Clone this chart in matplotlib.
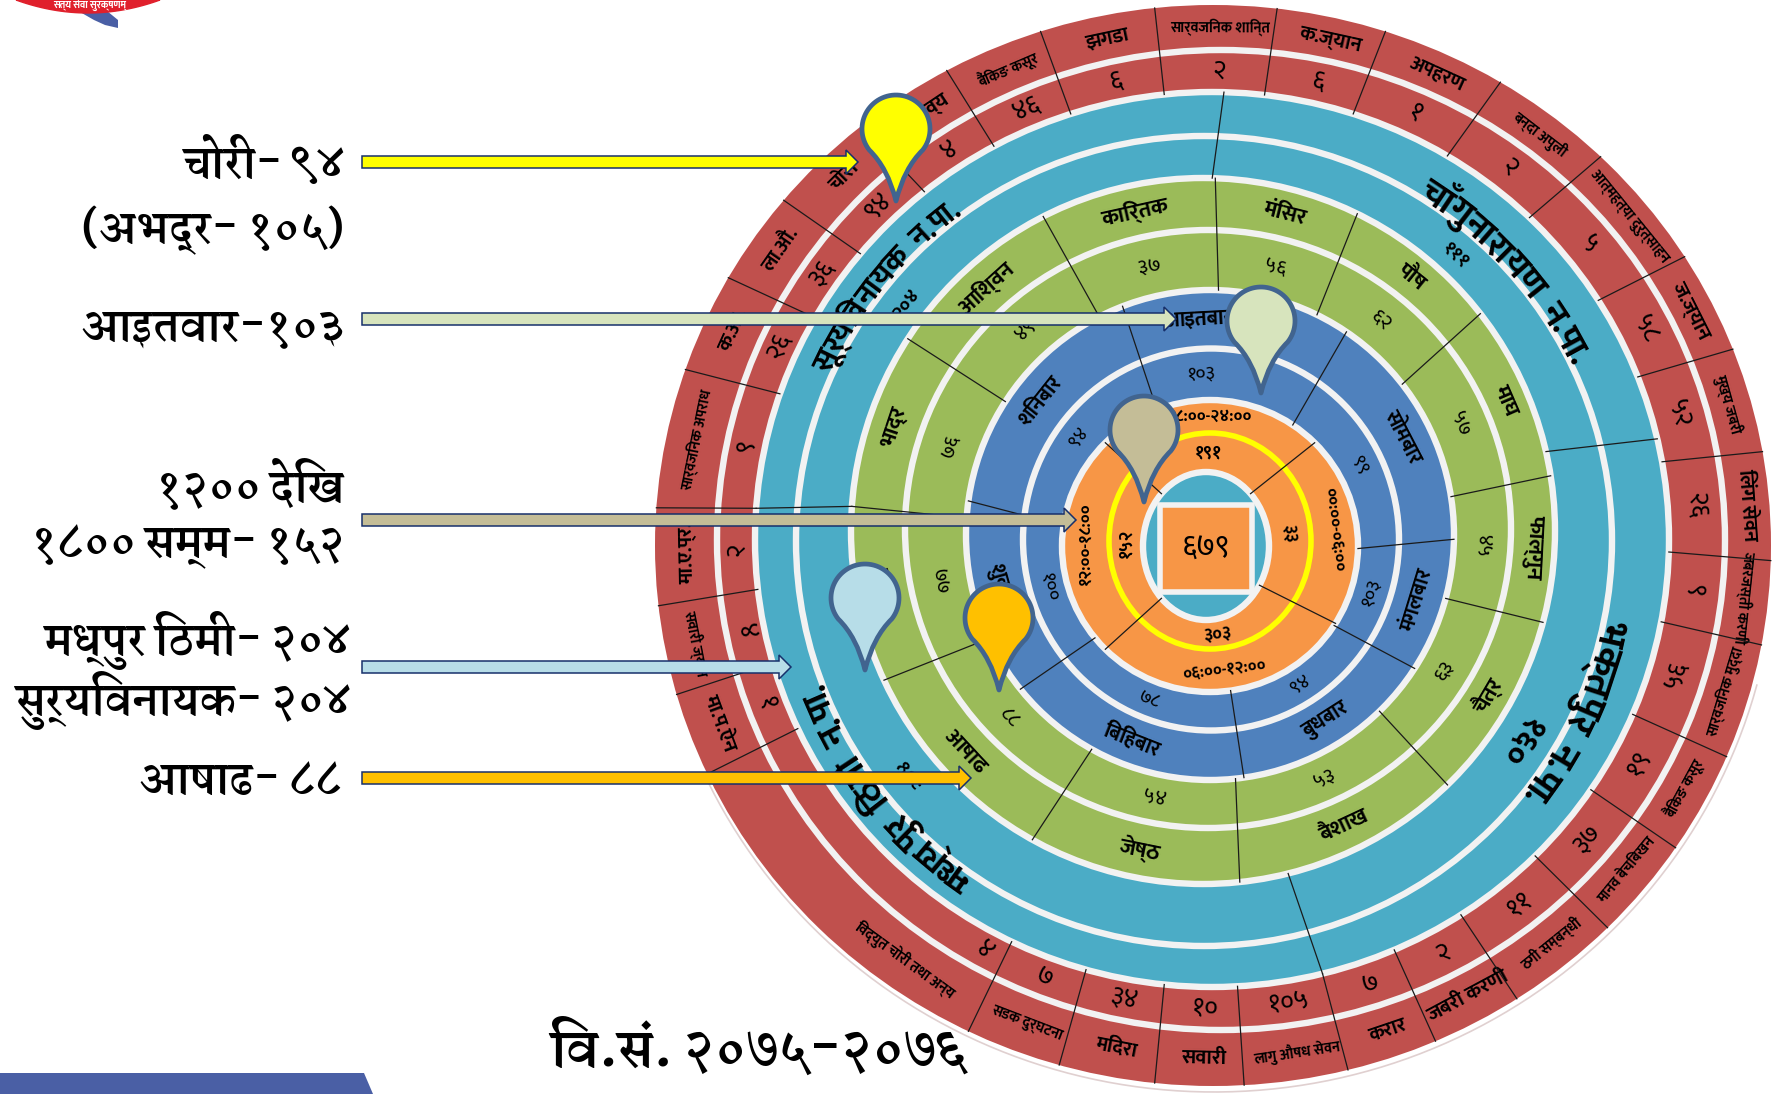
import re
import numpy as np
import matplotlib
matplotlib.use('Agg')
import matplotlib.pyplot as plt
from matplotlib.patches import Ellipse, Polygon, PathPatch, Rectangle
from matplotlib.path import Path

plt.rcParams['font.family'] = ['Noto Sans Devanagari', 'DejaVu Sans']
HEAD_FONT = ['Martel', 'Noto Sans Devanagari', 'DejaVu Sans']
RING_FONT = ['Mukta', 'Noto Sans Devanagari', 'DejaVu Sans']

# outermost ring: offence, count (clockwise from the top)
crime_names = ['सार्वजनिक शान्ति', 'क.ज्यान', 'अपहरण', 'बन्दा अपुली', 'आत्महत्या दुरुत्साहन', 'ज.ज्यान', 'मुख्य जबरी',
               'लिंग सेवन', 'जबरजस्ती करणी', 'सार्वजनिक मुद्दा', 'बैंकिङ कसूर', 'मानव बेचबिखन', 'ठगी सम्बन्धी',
               'जबरी करणी', 'करार', 'लागु औषध सेवन', 'सवारी', 'मदिरा', 'सडक दुर्घटना', 'विद्युत चोरी तथा अन्य',
               'मा.प.ऐन', 'सवारी ज्यान', 'मा.ए.प्र.', 'सार्वजनिक अपराध', 'क.आ.', 'ला.औ.', 'चोरी', 'कर्तव्य',
               'बैंकिङ कसूर', 'झगडा']
crime_vals = ['२', '६', '१', '२', '५', '५८', '५२', '२६', '९', '५६', '१९', '३७', '११', '२', '७', '१०५', '१०', '३४',
              '७', '४', '१', '४', '२', '९', '२६', '३६', '९४', '४', '४६', '६']
crime_edges = [354, 6.6, 18, 31, 44, 57.7, 68.7, 80, 91.6, 100.6, 113, 124, 135, 147, 156.5, 166, 176.8, 186, 196,
               206, 245, 254, 263.6, 274, 289, 299.7, 309.7, 321, 331.5, 342]

# municipality ring
town_names = ['चाँगुनारायण न.पा.', 'भक्तपुर न.पा.', 'मध्यपुर ठिमी न.पा.', 'सूर्यविनायक न.पा.']
town_vals = ['१११', '१६०', '२०४', '२०४']
town_edges = [1.5, 77, 166, 274]
town_name_ang = [48, 115, 232, 309]
town_val_ang = [42, 123, 231, 308]
town_sizes = [26, 28, 26, 22]

# month ring
month_names = ['मंसिर', 'पौष', 'माघ', 'फाल्गुन', 'चैत्र', 'बैशाख', 'जेष्ठ', 'आषाढ', 'साउन', 'भाद्र', 'आश्विन', 'कार्तिक']
month_vals = ['५६', '६२', '५७', '४५', '६३', '५३', '५४', '८८', '७७', '७६', '४९', '३७']
month_edges = [2, 26, 52, 81, 105, 136, 174, 209, 245, 274, 303, 333]

# weekday ring
day_names = ['आइतबार', 'सोमबार', 'मंगलबार', 'बुधबार', 'बिहिबार', 'शुक्रबार', 'शनिबार']
day_vals = ['१०३', '९९', '१०३', '९४', '७८', '१००', '९४']
day_edges = [339, 34, 91, 123, 172, 231, 278]

# time of day ring
slot_names = ['१८:००-२४:००', '००:००-०६:००', '०६:००-१२:००', '१२:००-१८:००']
slot_vals = ['१९१', '३३', '३०३', '१५२']
slot_edges = [315, 45, 122, 225]

total = '६७९'
year_text = 'वि.सं. २०७५-२०७६'

# callouts on the left
callout_lines = ['चोरी- ९४', '(अभद्र- १०५)', 'आइतवार-१०३', '१२०० देखि', '१८०० सम्म- १५२',
                 'मध्पुर ठिमी- २०४', 'सुर्यविनायक- २०४', 'आषाढ- ८८']
line_y = [163, 230, 328, 485, 547, 640, 700, 782]
line_right = [345, 345, 345, 345, 345, 351, 351, 342]
pointer_colors = ['#FFFF00', '#D7E4BD', '#C4BD97', '#B7DDE8', '#FFC000']
arrow_y = [162, 319, 520, 667, 778]
arrow_tip = [858, 1176, 1076, 791, 971]
pin_x = [896, 1261, 1144, 865, 999]
pin_y = [129, 321, 430, 598, 618]

# ring outlines: centre x, half width, centre y, half height
RINGS = [(1213, 558, 545.5, 540.5), (1221, 504, 540, 490), (1212, 457, 539.5, 447.5), (1204, 408, 541, 405),
         (1203, 352, 531, 353), (1208, 303, 529, 299), (1210, 244, 535, 245), (1211, 188, 539.5, 191),
         (1210, 148, 546, 146), (1210, 101, 541, 108), (1206, 63, 546, 74)]
FILLS = ['#C0504D', '#C0504D', '#4BACC6', '#4BACC6', '#9BBB59', '#9BBB59', '#4F81BD', '#4F81BD', '#F79646', '#F79646',
         '#4BACC6']
GAP = '#F2F2F2'


def vis(s):
    # no text shaping here, so the short i sign has to be put in front of its consonants by hand
    return re.sub('((?:[\u0915-\u0939]\u094d)*[\u0915-\u0939])\u093f', '\u093f\\1', s)


def ring_xy(i, ang, k=1.0):
    cx, a, cy, b = RINGS[i]
    t = np.radians(ang)
    return cx + k * a * np.sin(t), cy - k * b * np.cos(t)


def between(i, j, ang, f=0.5):
    x1, y1 = ring_xy(i, ang)
    x2, y2 = ring_xy(j, ang)
    return x1 + (x2 - x1) * f, y1 + (y2 - y1) * f


def mids(edges):
    out = []
    for n, e in enumerate(edges):
        nxt = edges[(n + 1) % len(edges)]
        if nxt < e:
            nxt += 360
        out.append(((e + nxt) / 2) % 360)
    return out


def upright(ang):
    return -ang + 180 if 100 < ang < 260 else -ang


def ring_text(x, y, s, rot, size, weight='bold'):
    ax.text(x, y, vis(s), rotation=rot, rotation_mode='anchor', ha='center', va='center', fontsize=size,
            fontweight=weight, family=RING_FONT, color='black')


def spokes(edges, i, j):
    for e in edges:
        x1, y1 = ring_xy(i, e)
        x2, y2 = ring_xy(j, e)
        ax.plot([x1, x2], [y1, y2], color='#1a1a1a', lw=0.9, zorder=4)


def clusters(s):
    # a cluster keeps its vowel signs and joined consonants together
    out = []
    for ch in s:
        cp = ord(ch)
        mark = 0x0900 <= cp <= 0x0903 or 0x093A <= cp <= 0x094F or 0x0951 <= cp <= 0x0957
        if out and (mark or out[-1].endswith('\u094d')):
            out[-1] += ch
        else:
            out.append(ch)
    return out


def curved(s, i, ang, size, k=1.02):
    # clockwise along ring i, tops pointing outwards
    renderer = fig.canvas.get_renderer()
    radius = k * (RINGS[i][1] + RINGS[i][3]) / 2
    parts = clusters(s)
    widths = []
    for p in parts:
        t = ax.text(0, 0, vis(p) if p != ' ' else 'र', fontsize=size, fontweight='bold', family=RING_FONT)
        widths.append(t.get_window_extent(renderer).width)
        t.remove()
    pos = ang - np.degrees(sum(widths) / radius) / 2
    for p, w in zip(parts, widths):
        c = pos + np.degrees(w / 2 / radius)
        if p != ' ':
            x, y = ring_xy(i, c, k)
            ring_text(x, y, p, -c, size)
        pos += np.degrees(w / radius)


def pin(x, yc, color, r=34, drop=72):
    t = np.radians(np.linspace(-38, 218, 60))
    ax_pts = np.column_stack([x + r * np.cos(t), yc - r * np.sin(t)])
    tip = (x, yc + drop)
    verts = [tip, (x + 0.24 * r, yc + 1.15 * r), ax_pts[0]] + [tuple(p) for p in ax_pts[1:]] + \
            [(x - 0.24 * r, yc + 1.15 * r), tip, tip]
    codes = [Path.MOVETO, Path.CURVE3, Path.CURVE3] + [Path.LINETO] * (len(ax_pts) - 1) + \
            [Path.CURVE3, Path.CURVE3, Path.CLOSEPOLY]
    ax.add_patch(PathPatch(Path(verts, codes), facecolor=color, edgecolor='#41648F', lw=3.4, zorder=8,
                           joinstyle='round'))


def arrow(x0, tip, y, color):
    h, head, xb = 6, 12, tip - 12
    pts = [(x0, y - h), (xb, y - h), (xb, y - head), (tip, y), (xb, y + head), (xb, y + h), (x0, y + h)]
    ax.add_patch(Polygon(pts, closed=True, facecolor=color, edgecolor='#17306B', lw=1.1, zorder=7))


fig = plt.figure(figsize=(17.79, 10.94), dpi=100)
ax = fig.add_axes([0, 0, 1, 1])
ax.set_xlim(0, 1779)
ax.set_ylim(1094, 0)
ax.axis('off')

# faint ghost edge below the disc
ghost = np.radians(np.linspace(105, 245, 200))
ax.plot(1214 + 562 * np.sin(ghost), 543 - 549 * np.cos(ghost), color='#e0d0d0', lw=1.2, zorder=1)

for n, (ring, fill) in enumerate(zip(RINGS, FILLS)):
    cx, a, cy, b = ring
    if n == 9:
        ax.add_patch(Ellipse((cx, cy), 2 * a, 2 * b, facecolor=fill, edgecolor='#FFFF00', lw=4, zorder=2))
    else:
        ax.add_patch(Ellipse((cx, cy), 2 * a, 2 * b, facecolor=fill, edgecolor=GAP if n else 'none', lw=4.6, zorder=2))

# middle square
ax.add_patch(Rectangle((1160, 505), 92, 87, facecolor='#F79646', edgecolor=GAP, lw=4, zorder=3))
ring_text(1206, 548, total, 0, 22, 'normal')

spokes(crime_edges, 0, 2)
spokes(town_edges, 2, 4)
spokes(month_edges, 4, 6)
spokes(day_edges, 6, 8)
spokes(slot_edges, 8, 10)

for name, val, ang in zip(crime_names, crime_vals, mids(crime_edges)):
    lab_ang = 216 if name.startswith('विद्युत') else ang
    x, y = between(0, 1, lab_ang)
    size = 14.5 if len(name) < 10 else 10.5
    ring_text(x, y, name, upright(lab_ang), size)
    x, y = between(1, 2, 209 if name.startswith('विद्युत') else ang)
    ring_text(x, y, val, upright(ang), 19, 'normal')

for name, val, ang1, ang2, sz in zip(town_names, town_vals, town_name_ang, town_val_ang, town_sizes):
    curved(name, 3, ang1, sz)
    x, y = between(3, 4, ang2, 0.55)
    ring_text(x, y, val, -ang2, 24 if val == '१६०' else 14)

for name, val, ang in zip(month_names, month_vals, mids(month_edges)):
    x, y = between(4, 5, ang)
    ring_text(x, y, name, upright(ang), 16)
    x, y = between(5, 6, ang)
    ring_text(x, y, val, upright(ang), 15, 'normal')

day_ang = mids(day_edges)
day_ang[0] = -3
for name, val, ang in zip(day_names, day_vals, day_ang):
    x, y = between(6, 7, ang)
    ring_text(x, y, name, upright(ang % 360), 15)
    x, y = between(7, 8, ang)
    ring_text(x, y, val, upright(ang % 360), 14, 'normal')

for name, val, ang in zip(slot_names, slot_vals, mids(slot_edges)):
    x, y = between(8, 9, ang)
    ring_text(x, y, name, upright(ang), 12)
    x, y = between(9, 10, ang)
    ring_text(x, y, val, upright(ang), 13)

for c, tip, y in zip(pointer_colors, arrow_tip, arrow_y):
    arrow(362, tip, y, c)
for c, x, y in zip(pointer_colors, pin_x, pin_y):
    pin(x, y, c)

for s, y, xr in zip(callout_lines, line_y, line_right):
    ax.text(xr, y, vis(s), ha='right', va='center', fontsize=30, fontweight='heavy', family=HEAD_FONT, color='black')
ax.text(759, 1048, vis(year_text), ha='center', va='center', fontsize=36, fontweight='heavy', family=HEAD_FONT,
        color='black', zorder=9)

# bar at the bottom and the piece of emblem at the top
ax.add_patch(Polygon([(0, 1073), (364, 1073), (373, 1094), (0, 1094)], closed=True, facecolor='#4A5FA5', edgecolor='none'))
ax.add_patch(Polygon([(80, 12), (107, 11), (118, 20), (118, 28), (105, 25), (94, 20)], closed=True, facecolor='#4A5FA5',
                     edgecolor='none'))
arc_t = np.linspace(-1, 1, 40)
ax.fill(np.r_[88 + 72 * arc_t], np.r_[13 - 13 * arc_t ** 2], color='#E0202C', zorder=3)
ax.text(90, 5.5, 'सत्य सेवा सुरक्षणम्', ha='center', va='center', fontsize=7, fontweight='bold', color='white',
        family=RING_FONT, zorder=4)

plt.savefig('out.png', dpi=100)
